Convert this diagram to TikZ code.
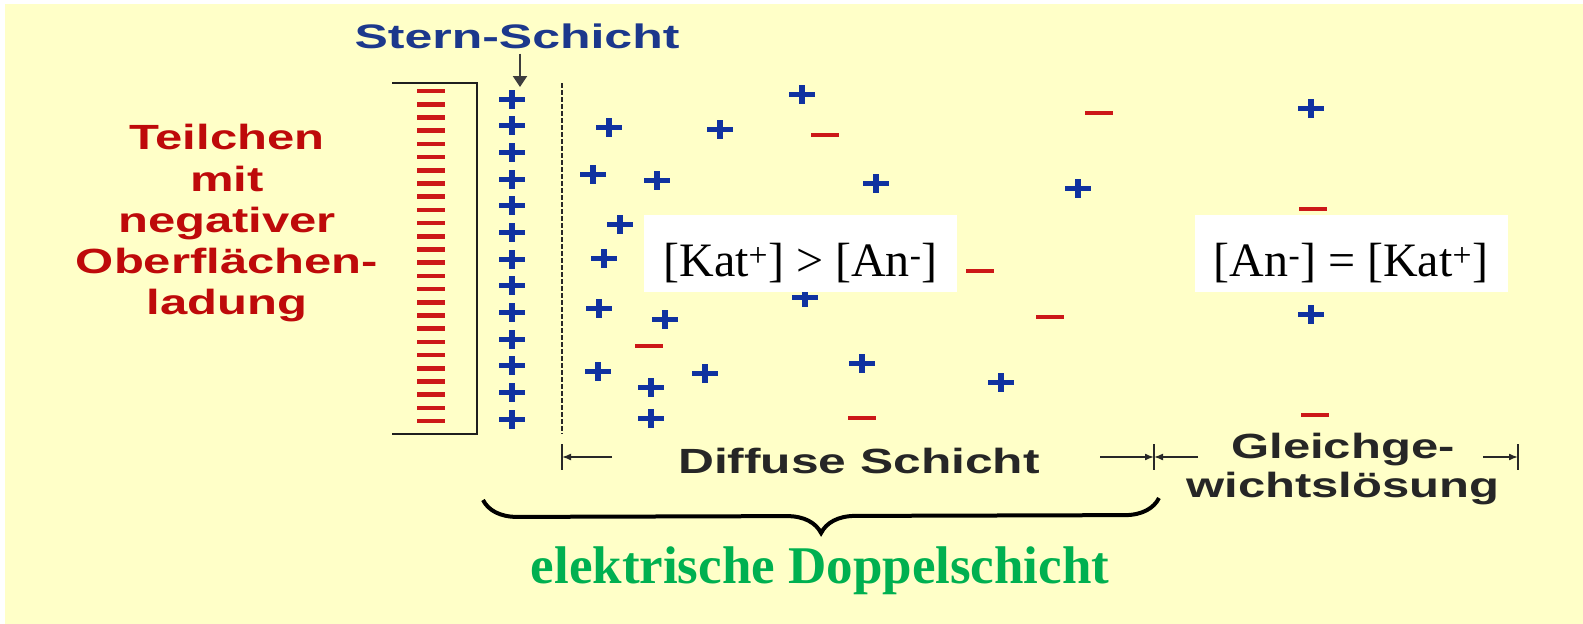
\documentclass[tikz,border=0pt]{standalone}
\usepackage{graphicx}
\usepackage{fontspec}
\setmainfont{Liberation Serif}
\newfontfamily\arialf{Liberation Sans}
\usetikzlibrary{arrows.meta,decorations.pathreplacing}
\definecolor{bgyellow}{RGB}{255,255,200}
\definecolor{ionblue}{RGB}{16,50,160}
\definecolor{sternblue}{RGB}{28,56,140}
\definecolor{ionred}{RGB}{204,24,24}
\definecolor{txtred}{RGB}{190,10,10}
\definecolor{dblgreen}{RGB}{0,176,80}
\definecolor{dimgray}{RGB}{40,40,40}
\tikzset{
  pion/.pic={\fill[ionblue] (-13,-2.5) rectangle (13,2.5); \fill[ionblue] (-3,-9.5) rectangle (3,9.5);},
  nion/.pic={\fill[ionred] (-14,-2.3) rectangle (14,2.3);},
  sansbold/.style={inner sep=0pt, font=\arialf\bfseries\fontsize{35}{41.25}\selectfont},
  conbox/.style={fill=white, inner sep=0pt, minimum width=313pt, minimum height=77pt, text height=45pt, text depth=0pt, font=\fontsize{48}{56}\selectfont},
  dimline/.style={dimgray, line width=1.6pt},
  dimarrow/.style={dimgray, line width=1.6pt, -{Latex[length=9pt,width=7pt]}},
  bracketline/.style={black!88, line width=2.5pt},
  sternline/.style={dimgray!90, line width=2pt, -{Triangle[length=11pt,width=14pt]}},
  braceline/.style={black, line width=4pt, decorate, decoration={brace, mirror, amplitude=34pt}},
}
\begin{document}
\begin{tikzpicture}[x=1pt,y=-1pt]
\useasboundingbox (0,0) rectangle (1583,624);
\fill[white] (0,0) rectangle (1583,624);
\fill[bgyellow] (5,4) rectangle (1583,624);

% surface charges
\foreach \i in {0,...,25} \pic at (431,{91+\i*13.2}) {nion};
\draw[bracketline] (392,83) -- (477,83) -- (477,434) -- (392,434);
% Stern layer
\foreach \i in {0,...,12} \pic at (512,{99+\i*26.67}) {pion};
\draw[dimgray, line width=2.5pt, dash pattern=on 4.5pt off 2.5pt] (562,83) -- (562,434);

% diffuse ions
\foreach \x/\y in {802/94,1311/108,609/127,720/129,593/174,657/180,876/183,1078/188,620/224,604/258,805/297,599/308,665/319,1311/314,598/371,705/373,862/363,1001/382,651/387,651/418}
  \pic at (\x,\y) {pion};
\foreach \x/\y in {1099/113,825/135,1313/209,980/271,1050/317,649/346,862/418,1315/415}
  \pic at (\x,\y) {nion};

% concentration boxes
\node[conbox] (kbox) at (800.5,253.5) {[Kat\textsuperscript{+}] > [An\textsuperscript{-}]};
\node[conbox] (abox) at (1351,253.5) {[An\textsuperscript{-}] = [Kat\textsuperscript{+}]};

% labels
\node[sansbold, text=sternblue, anchor=base, font=\arialf\bfseries\fontsize{34}{40}\selectfont] (stern) at (517,48) {\scalebox{1.47}[1]{Stern-Schicht}};
\coordinate (sterntip) at (520,87);
\draw[sternline, shorten <=5pt] (stern.south -| sterntip) -- (sterntip);

\node[sansbold, text=txtred] (teil) at (227,224) {\scalebox{1.4}[1]{\begin{tabular}{@{}c@{}}Teilchen\\mit\\negativer\\Oberflächen-\\ladung\end{tabular}}};

\node[sansbold, text=black!85, anchor=base] (diff) at (859,473) {\scalebox{1.42}[1]{Diffuse Schicht}};
\node[sansbold, text=black!85, font=\arialf\bfseries\fontsize{35}{39}\selectfont] (gleich) at (1343,470) {\scalebox{1.4}[1]{\begin{tabular}{@{}c@{}}Gleichge-\\wichtslösung\end{tabular}}};

% dimension lines
\coordinate (dl) at (562,457);
\coordinate (dm) at (1154,457);
\coordinate (dr) at (1518,457);
\coordinate (dla) at (612,457);
\coordinate (dma) at (1100,457);
\coordinate (dmb) at (1198,457);
\coordinate (dra) at (1483,457);
\foreach \c in {dl,dm,dr} \draw[dimline] ([yshift=13pt]\c) -- ([yshift=-13pt]\c);
\draw[dimarrow] (dla) -- (dl);
\draw[dimarrow] (dma) -- (dm);
\draw[dimarrow] (dmb) -- (dm);
\draw[dimarrow] (dra) -- (dr);

% brace
\coordinate (bl) at (483,500);
\coordinate (br) at (1159,498);
\draw[braceline] (bl) -- (br);
\node[inner sep=0pt, anchor=base, text=dblgreen, font=\bfseries\fontsize{53}{60}\selectfont] (edl) at (820,583) {elektrische Doppelschicht};
\end{tikzpicture}
\end{document}
